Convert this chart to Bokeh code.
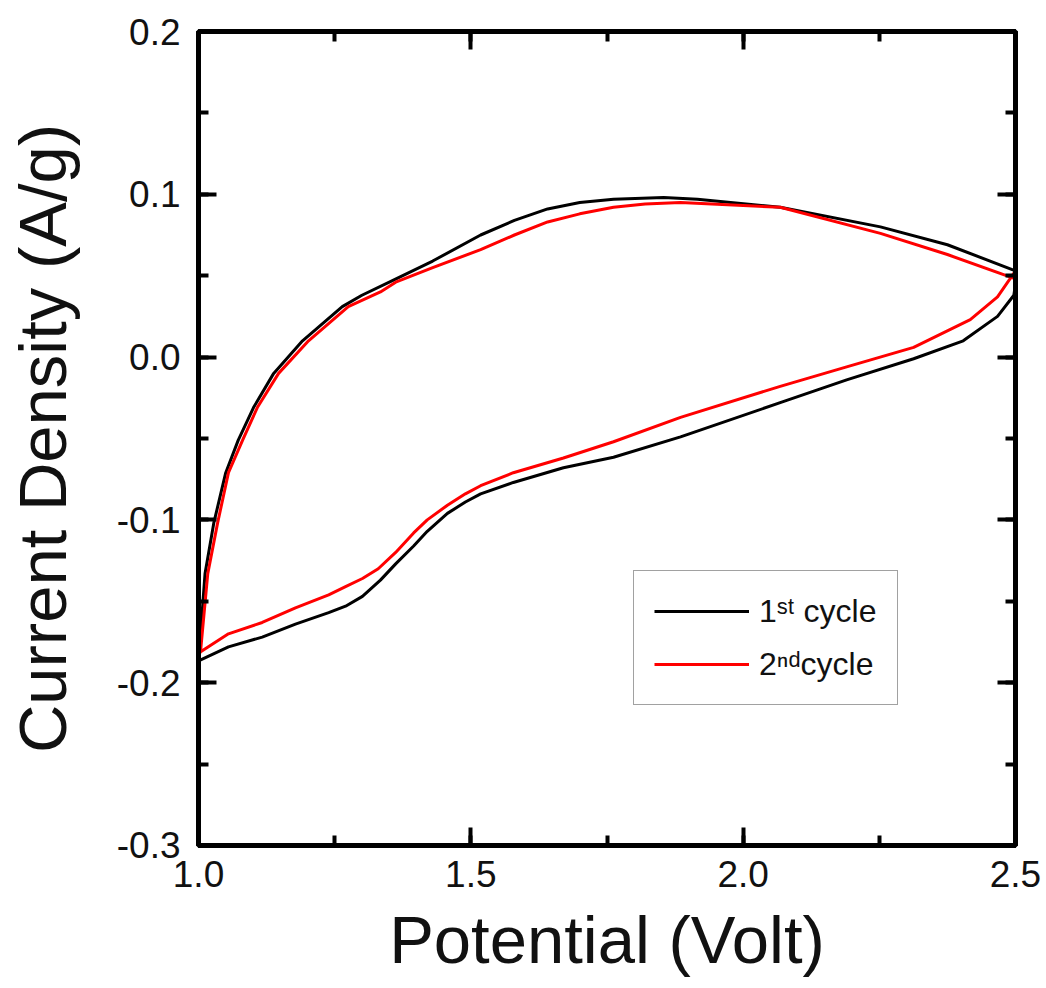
from bokeh.plotting import figure
from bokeh.models import (Range1d, LinearAxis, SingleIntervalTicker, PrintfTickFormatter, Legend, LegendItem,
                          CustomJSTickFormatter)
from bokeh.embed import file_html
from bokeh.resources import INLINE

# Cycle 1 (black): anodic branch 1.0 -> 2.5, then cathodic branch 2.5 -> 1.0
cycle1_potential = [1.000, 1.006, 1.012, 1.028, 1.050, 1.073, 1.101, 1.138, 1.191, 1.264, 1.300, 1.356,
                    1.430, 1.518, 1.580, 1.641, 1.700, 1.762, 1.854, 1.916, 2.068, 2.252, 2.375, 2.500,
                    2.500, 2.497, 2.467, 2.404, 2.313, 2.190, 2.068, 1.885, 1.762, 1.670, 1.578,
                    1.518, 1.490, 1.457, 1.420, 1.395, 1.362, 1.334, 1.301, 1.270, 1.239, 1.178, 1.117,
                    1.055, 1.004, 1.000]
cycle1_current = [-0.187, -0.160, -0.133, -0.102, -0.071, -0.051, -0.031, -0.010, 0.010, 0.031, 0.038, 0.047,
                  0.059, 0.075, 0.084, 0.091, 0.095, 0.097, 0.098, 0.097, 0.092, 0.080, 0.069, 0.053,
                  0.045, 0.038, 0.025, 0.010, -0.001, -0.014, -0.028, -0.049, -0.0615, -0.068, -0.077,
                  -0.084, -0.089, -0.096, -0.107, -0.116, -0.127, -0.137, -0.147, -0.153, -0.157, -0.164, -0.172,
                  -0.178, -0.186, -0.187]

# Cycle 2 (red)
cycle2_potential = [1.000, 1.004, 1.017, 1.035, 1.055, 1.081, 1.108, 1.147, 1.202, 1.275, 1.334, 1.362,
                    1.430, 1.518, 1.580, 1.641, 1.700, 1.762, 1.820, 1.885, 2.068, 2.252, 2.375, 2.500,
                    2.500, 2.467, 2.417, 2.313, 2.190, 2.068, 1.885, 1.762, 1.670, 1.578, 1.518,
                    1.490, 1.457, 1.420, 1.395, 1.362, 1.330, 1.301, 1.270, 1.239, 1.178, 1.117, 1.055,
                    1.004, 1.000]
cycle2_current = [-0.183, -0.180, -0.133, -0.102, -0.071, -0.051, -0.031, -0.010, 0.010, 0.031, 0.040, 0.046,
                  0.055, 0.066, 0.075, 0.083, 0.088, 0.092, 0.094, 0.095, 0.092, 0.076, 0.063, 0.048,
                  0.053, 0.037, 0.023, 0.006, -0.006, -0.018, -0.037, -0.052, -0.062, -0.071, -0.079,
                  -0.084, -0.091, -0.100, -0.108, -0.120, -0.130, -0.136, -0.141, -0.146, -0.154, -0.163, -0.170,
                  -0.181, -0.183]

legend_labels = ["1\u02e2\u1d57 cycle", "2\u207f\u1d48cycle"]
x_label = "Potential (Volt)"
y_label = "Current Density (A/g)"

FONT = "Liberation Sans"

p = figure(width=1046, height=988, output_backend="svg", toolbar_location=None,
           x_range=Range1d(0.99999, 2.50001), y_range=Range1d(-0.300001, 0.200001),
           x_axis_location=None, y_axis_location=None,
           min_border_left=198, min_border_right=31, min_border_top=31, min_border_bottom=143)
p.grid.visible = False
p.outline_line_color = "black"
p.outline_line_width = 5
p.background_fill_color = "white"
p.border_fill_color = "white"

r1 = p.line(cycle1_potential, cycle1_current, line_color="black", line_width=3, line_join="round")
r2 = p.line(cycle2_potential, cycle2_current, line_color="#ff0000", line_width=3, line_join="round")

bottom = LinearAxis(ticker=SingleIntervalTicker(interval=0.5, num_minor_ticks=2), axis_label=x_label)
top = LinearAxis(ticker=SingleIntervalTicker(interval=0.5, num_minor_ticks=2))
left = LinearAxis(ticker=SingleIntervalTicker(interval=0.1, num_minor_ticks=2), axis_label=y_label)
right = LinearAxis(ticker=SingleIntervalTicker(interval=0.1, num_minor_ticks=2))
p.add_layout(bottom, "below")
p.add_layout(left, "left")
p.add_layout(top, "above")
p.add_layout(right, "right")

for ax in [bottom, left, top, right]:
    ax.axis_line_width = 5
    ax.axis_line_color = "black"
    ax.major_tick_in = 18
    ax.major_tick_out = 0
    ax.minor_tick_in = 10
    ax.minor_tick_out = 0
    ax.major_tick_line_width = 4
    ax.minor_tick_line_width = 4
    ax.major_tick_line_color = "black"
    ax.minor_tick_line_color = "black"
    ax.major_label_text_font = FONT
    ax.major_label_text_font_size = "37px"
    ax.major_label_text_color = "#111111"
    ax.axis_label_text_font = FONT
    ax.axis_label_text_font_size = "67px"
    ax.axis_label_text_font_style = "normal"
    ax.axis_label_text_color = "#111111"
    ax.formatter = PrintfTickFormatter(format="%.1f")

for ax in [top, right]:
    ax.formatter = CustomJSTickFormatter(code="return '';")
    ax.major_label_standoff = 0

bottom.major_label_standoff = 15
bottom.axis_label_standoff = 12
left.major_label_standoff = 18
left.axis_label_standoff = 34

legend = Legend(items=[LegendItem(label=legend_labels[0], renderers=[r1]),
                       LegendItem(label=legend_labels[1], renderers=[r2])],
                location=(435, 140))
legend.border_line_color = "#444444"
legend.border_line_width = 1.5
legend.background_fill_color = "white"
legend.padding = 20
legend.spacing = 13
legend.glyph_width = 95
legend.glyph_height = 40
legend.label_height = 40
legend.label_standoff = 10
legend.label_text_font = FONT
legend.label_text_font_size = "32px"
legend.label_text_color = "#111111"
legend.margin = 0
p.add_layout(legend, "center")

open("out.html", "w").write(file_html(p, INLINE))
